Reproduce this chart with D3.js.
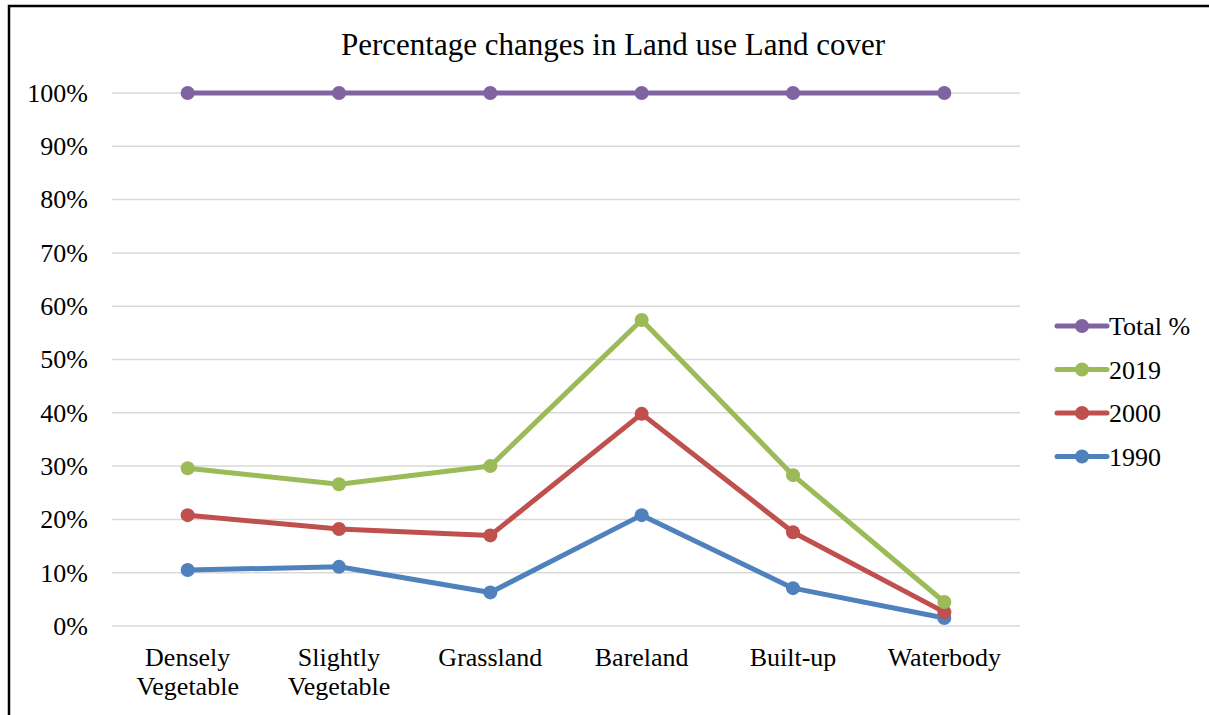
<!DOCTYPE html>
<html>
<head>
<meta charset="utf-8">
<script src="https://cdn.jsdelivr.net/npm/d3@7"></script>
<style>
  body { margin: 0; background: #fff; }
  svg { display: block; font-family: "Liberation Serif", "Times New Roman", serif; }
</style>
</head>
<body>
<svg id="chart" width="1209" height="715"></svg>
<script>
// data
var categories = ['Densely Vegetable', 'Slightly Vegetable', 'Grassland', 'Bareland', 'Built-up', 'Waterbody'];
var total  = [100, 100, 100, 100, 100, 100];
var y2019  = [29.6, 26.6, 30.0, 57.4, 28.3, 4.5];
var y2000  = [20.8, 18.2, 17.0, 39.8, 17.6, 2.6];
var y1990  = [10.5, 11.1, 6.3, 20.8, 7.1, 1.5];
var seriesNames = ['Total %', '2019', '2000', '1990'];
var yTicks = [0, 10, 20, 30, 40, 50, 60, 70, 80, 90, 100];

var colours = ['#8064a2', '#9bbb59', '#c0504d', '#4f81bd'];
var seriesValues = [total, y2019, y2000, y1990];

var margins = { top: 93, left: 112, right: 189, bottom: 89 },
    width = 1209 - margins.left - margins.right,
    height = 715 - margins.top - margins.bottom;

var svg = d3.select('#chart');

// frame (left + top edges only visible)
svg.append('path')
    .attr('d', 'M9,715V6H1209')
    .attr('fill', 'none')
    .attr('stroke', '#000')
    .attr('stroke-width', 2.5);

svg.append('text')
    .attr('x', 613)
    .attr('y', 55)
    .attr('text-anchor', 'middle')
    .attr('font-size', 31)
    .attr('fill', '#000')
    .text('Percentage changes in Land use Land cover');

var g = svg.append('g').attr('transform', 'translate(' + margins.left + ',' + margins.top + ')');

var xScale = d3.scaleBand().domain(categories).range([0, width]);
var yScale = d3.scaleLinear().domain([0, 100]).range([height, 0]);

// gridlines
g.selectAll('.grid')
    .data(yTicks)
    .enter().append('line')
    .attr('x1', 0).attr('x2', width)
    .attr('y1', function(d) { return yScale(d); })
    .attr('y2', function(d) { return yScale(d); })
    .attr('stroke', '#d9d9d9')
    .attr('stroke-width', 1.5);

// y axis labels
var yAxis = g.append('g')
    .call(d3.axisLeft(yScale).tickValues(yTicks).tickSize(0).tickPadding(24)
      .tickFormat(function(d) { return d + '%'; }));
yAxis.select('.domain').remove();
yAxis.selectAll('text')
    .attr('font-family', '"Liberation Serif", serif')
    .attr('font-size', 26)
    .attr('fill', '#000');

// x axis labels (wrapped onto two lines)
var xAxis = g.append('g')
    .attr('transform', 'translate(0,' + height + ')')
    .call(d3.axisBottom(xScale).tickSize(0).tickFormat(''));
xAxis.select('.domain').remove();
xAxis.selectAll('.tick').each(function(d) {
    var words = d.split(' ');
    var t = d3.select(this).append('text')
        .attr('text-anchor', 'middle')
        .attr('font-family', '"Liberation Serif", serif')
        .attr('font-size', 26)
        .attr('fill', '#000');
    words.forEach(function(w, i) {
        t.append('tspan').attr('x', 0).attr('y', 40 + i * 29).text(w);
    });
});

var line = d3.line()
    .x(function(d, i) { return xScale(categories[i]) + xScale.bandwidth() / 2; })
    .y(function(d) { return yScale(d); });

// draw bottom series first so 2019 sits on top like the original
var order = [3, 2, 1, 0];
order.forEach(function(s) {
    var vals = seriesValues[s];
    g.append('path')
        .datum(vals)
        .attr('d', line)
        .attr('fill', 'none')
        .attr('stroke', colours[s])
        .attr('stroke-width', 5)
        .attr('stroke-linejoin', 'round');
    g.selectAll('.dot' + s)
        .data(vals)
        .enter().append('circle')
        .attr('cx', function(d, i) { return xScale(categories[i]) + xScale.bandwidth() / 2; })
        .attr('cy', function(d) { return yScale(d); })
        .attr('r', 7)
        .attr('fill', colours[s]);
});

// legend
var legend = svg.append('g').attr('transform', 'translate(1057,326)');
seriesNames.forEach(function(name, i) {
    var row = legend.append('g').attr('transform', 'translate(0,' + (i * 43.5) + ')');
    row.append('line')
        .attr('x1', 0).attr('x2', 50)
        .attr('stroke', colours[i])
        .attr('stroke-width', 5)
        .attr('stroke-linecap', 'round');
    row.append('circle').attr('cx', 25).attr('r', 7).attr('fill', colours[i]);
    row.append('text')
        .attr('x', 52)
        .attr('y', 9)
        .attr('font-size', 26)
        .attr('fill', '#000')
        .text(name);
});
</script>
</body>
</html>
